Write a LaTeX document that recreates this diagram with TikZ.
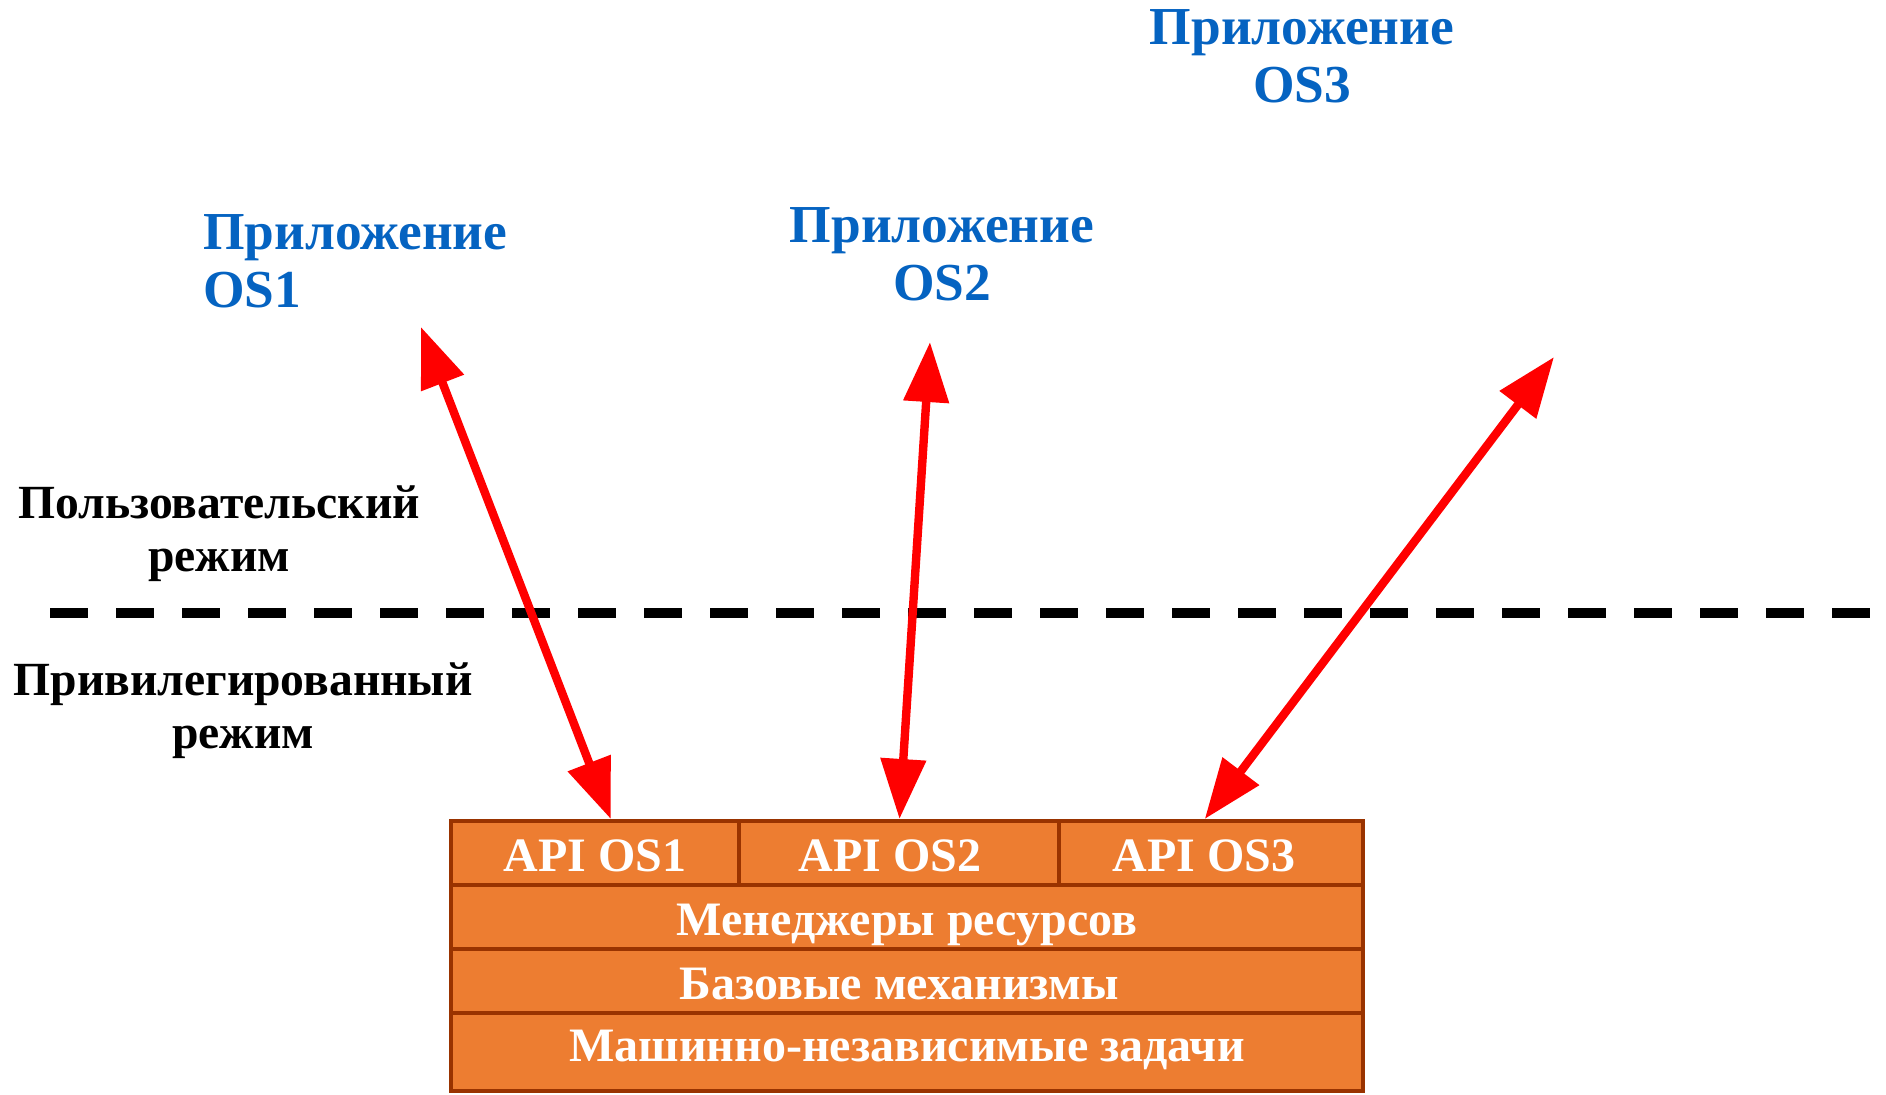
\documentclass[tikz,border=0pt]{standalone}
\usepackage{fontspec}
\setmainfont{Liberation Serif}
\usetikzlibrary{arrows.meta}

\definecolor{appblue}{RGB}{5,99,193}
\definecolor{boxfill}{RGB}{237,125,49}
\definecolor{boxline}{RGB}{153,51,0}

\tikzset{
  app/.style={text=appblue, font=\fontsize{26.7}{29}\selectfont\bfseries},
  mode/.style={align=center, font=\fontsize{23.8}{26.5}\selectfont\bfseries},
  cell/.style={draw=boxline, fill=boxfill, line width=2pt, text=white, inner sep=0pt,
    minimum height=32pt, text height=20pt, text depth=2pt,
    font=\fontsize{24}{28}\selectfont\bfseries},
  link/.style={red, line width=4.2pt,
    {Triangle[length=30pt,width=22pt]}-{Triangle[length=30pt,width=22pt]}}
}

\begin{document}
\begin{tikzpicture}[x=0.5pt,y=-0.5pt]
		\useasboundingbox (0,0) rectangle (1886,1094);
		
			\node[app, align=left, anchor=west] (a) at (196,261) {Приложение\\OS1};
			\node[app, align=center] (b) at (942,254) {Приложение\\OS2};
			\node[app, align=center] (c) at (1302,56) {Приложение\\OS3};
			
			\node[mode] (d) at (219,534) {Пользовательский\\режим};
			\node[mode] (e) at (243,711) {Привилегированный\\режим};
			
			\coordinate (f) at (50,613);
			\coordinate (g) at (1886,613);
			\draw[line width=5pt, dash pattern=on 19pt off 14pt] (f) -- (g);
			
			\node[cell, minimum width=143.75pt] (h) at (594.75,853) {API OS1};
			\node[cell, minimum width=160pt] (i) at (898.5,853) {\hspace*{-8.4pt}API OS2};
			\node[cell, minimum width=152.25pt] (j) at (1210.75,853) {\hspace*{-6.6pt}API OS3};
			\node[cell, minimum width=456pt] (k) at (907,917) {Менеджеры ресурсов};
			\node[cell, minimum width=456pt] (l) at (907,981) {\hspace*{-7.8pt}Базовые механизмы};
			\node[cell, minimum width=456pt, minimum height=39pt, text depth=11pt] (m) at (907,1052) {Машинно-независимые задачи};
			
			\coordinate (p) at (421,327);
			\coordinate (q) at (930,342);
			\coordinate (r) at (1554,357);
			
			\draw[link] (p) -- ([xshift=8pt]h.north);
			\draw[link] (q) -- ([xshift=0.5pt]i.north);
			\draw[link] (r) -- ([xshift=-3pt]j.north);
			
		\end{tikzpicture}
\end{document}
